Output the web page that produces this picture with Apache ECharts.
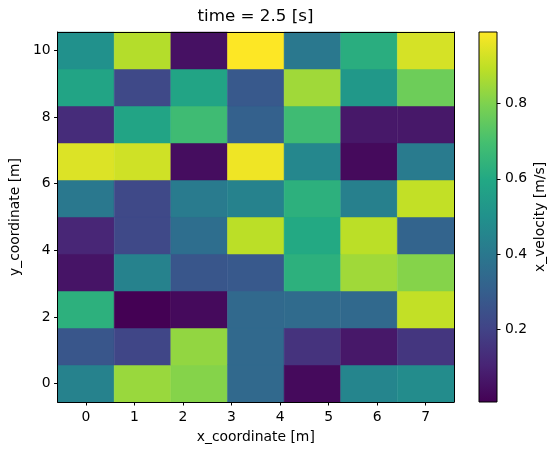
<!DOCTYPE html>
<html>
<head>
<meta charset="utf-8">
<script src="https://cdn.jsdelivr.net/npm/echarts@6/dist/echarts.min.js"></script>
<style>
  html, body { margin: 0; padding: 0; background: #fff; }
  #chart { width: 558px; height: 455px; }
</style>
</head>
<body>
<div id="chart"></div>
<script>
  // cell centres (x: 7 points over 0..7, y: 10 points over 0..10)
  var xCoords = [0, 1.1667, 2.3333, 3.5, 4.6667, 5.8333, 7];
  var yCoords = [0, 1.1111, 2.2222, 3.3333, 4.4444, 5.5556, 6.6667, 7.7778, 8.8889, 10];

  // x_velocity [m/s], one row per y coordinate (bottom row first)
  var row0 = [0.44, 0.84, 0.81, 0.34, 0.03, 0.45, 0.48];
  var row1 = [0.27, 0.21, 0.83, 0.34, 0.15, 0.07, 0.16];
  var row2 = [0.63, 0.006, 0.03, 0.34, 0.35, 0.34, 0.90];
  var row3 = [0.06, 0.44, 0.27, 0.28, 0.63, 0.85, 0.81];
  var row4 = [0.11, 0.22, 0.36, 0.89, 0.60, 0.89, 0.32];
  var row5 = [0.40, 0.22, 0.41, 0.44, 0.63, 0.43, 0.90];
  var row6 = [0.94, 0.92, 0.04, 0.97, 0.46, 0.03, 0.41];
  var row7 = [0.13, 0.58, 0.68, 0.31, 0.68, 0.07, 0.07];
  var row8 = [0.58, 0.22, 0.58, 0.28, 0.85, 0.53, 0.77];
  var row9 = [0.50, 0.88, 0.05, 0.991, 0.40, 0.62, 0.93];
  var rows = [row0, row1, row2, row3, row4, row5, row6, row7, row8, row9];

  var xTicks = [0, 1, 2, 3, 4, 5, 6, 7];
  var yTicks = [0, 2, 4, 6, 8, 10];
  var cbarTicks = [0.2, 0.4, 0.6, 0.8];
  var vMin = 0.006, vMax = 0.991;

  var viridis = ['#440154', '#482475', '#414487', '#355f8d', '#2a788e', '#21918c',
                 '#22a884', '#44bf70', '#7ad151', '#bddf26', '#fde725'];

  var dx = 7 / 6, dy = 10 / 9;
  var font = 'DejaVu Sans';

  var cells = [];
  rows.forEach(function (r, j) {
    r.forEach(function (v, i) {
      cells.push([xCoords[i], yCoords[j], v]);
    });
  });

  var chart = echarts.init(document.getElementById('chart'));

  var tickStyle = {lineStyle: {color: '#000', width: 1}, length: 3.5, inside: false};
  var labelStyle = {color: '#000', fontSize: 13.9, fontFamily: font};
  var frameLine = {show: true, onZero: false, lineStyle: {color: '#000', width: 1}};

  chart.setOption({
    animation: false,
    graphic: [{
      type: 'text',
      x: 255.5,
      y: 17,
      style: {text: 'time = 2.5 [s]', fill: '#000', font: '16.7px "DejaVu Sans"', align: 'center', verticalAlign: 'middle'}
    }],
    grid: [
      {left: 57, top: 32, width: 397, height: 370},
      {left: 479, top: 32, width: 18, height: 370}
    ],
    xAxis: [
      {
        type: 'value', gridIndex: 0, position: 'bottom', min: -dx / 2, max: 7 + dx / 2, z: 5,
        splitLine: {show: false},
        axisLine: frameLine,
        axisTick: Object.assign({customValues: xTicks}, tickStyle),
        axisLabel: Object.assign({customValues: xTicks, margin: 8}, labelStyle),
        name: 'x_coordinate [m]', nameLocation: 'middle', nameGap: 28,
        nameTextStyle: labelStyle
      },
      {
        type: 'value', gridIndex: 0, position: 'top', min: -dx / 2, max: 7 + dx / 2, z: 5,
        splitLine: {show: false}, axisTick: {show: false}, axisLabel: {show: false},
        axisLine: frameLine
      },
      {
        type: 'value', gridIndex: 1, min: 0, max: 1, show: false
      }
    ],
    yAxis: [
      {
        type: 'value', gridIndex: 0, position: 'left', min: -dy / 2, max: 10 + dy / 2, z: 5,
        splitLine: {show: false},
        axisLine: frameLine,
        axisTick: Object.assign({show: true, customValues: yTicks}, tickStyle),
        axisLabel: Object.assign({customValues: yTicks, margin: 7}, labelStyle),
        name: 'y_coordinate [m]', nameLocation: 'middle', nameGap: 34,
        nameTextStyle: labelStyle
      },
      {
        type: 'value', gridIndex: 0, position: 'right', min: -dy / 2, max: 10 + dy / 2, z: 5,
        splitLine: {show: false}, axisTick: {show: false}, axisLabel: {show: false},
        axisLine: frameLine
      },
      {
        type: 'value', gridIndex: 1, position: 'right', min: vMin, max: vMax,
        splitLine: {show: false},
        axisLine: {show: false, onZero: false},
        axisTick: Object.assign({show: true, customValues: cbarTicks}, tickStyle),
        axisLabel: Object.assign({customValues: cbarTicks, margin: 8,
          formatter: function (v) { return v.toFixed(1); }}, labelStyle),
        name: 'x_velocity [m/s]', nameLocation: 'middle', nameGap: 36,
        nameTextStyle: labelStyle
      }
    ],
    visualMap: {
      show: false,
      type: 'continuous',
      seriesIndex: 0,
      dimension: 2,
      min: vMin,
      max: vMax,
      inRange: {color: viridis}
    },
    series: [
      {
        type: 'custom',
        xAxisIndex: 0,
        yAxisIndex: 0,
        data: cells,
        encode: {x: 0, y: 1},
        renderItem: function (params, api) {
          var x = api.value(0), y = api.value(1);
          var p0 = api.coord([x - dx / 2, y + dy / 2]);
          var p1 = api.coord([x + dx / 2, y - dy / 2]);
          var c = api.visual('color');
          return {
            type: 'rect',
            shape: {x: p0[0], y: p0[1], width: p1[0] - p0[0], height: p1[1] - p0[1]},
            style: {fill: c, stroke: c, lineWidth: 0.5}
          };
        }
      },
      {
        // colour bar
        type: 'custom',
        xAxisIndex: 2,
        yAxisIndex: 2,
        data: [[0, vMin, 1, vMax]],
        encode: {x: [0, 2], y: [1, 3]},
        renderItem: function (params, api) {
          var p0 = api.coord([api.value(0), api.value(3)]);
          var p1 = api.coord([api.value(2), api.value(1)]);
          var stops = viridis.map(function (c, i) {
            return {offset: 1 - i / (viridis.length - 1), color: c};
          }).reverse();
          return {
            type: 'rect',
            shape: {x: p0[0], y: p0[1], width: p1[0] - p0[0], height: p1[1] - p0[1]},
            style: {
              fill: new echarts.graphic.LinearGradient(0, 0, 0, 1, stops),
              stroke: '#000', lineWidth: 1
            }
          };
        }
      }
    ]
  });
</script>
</body>
</html>
